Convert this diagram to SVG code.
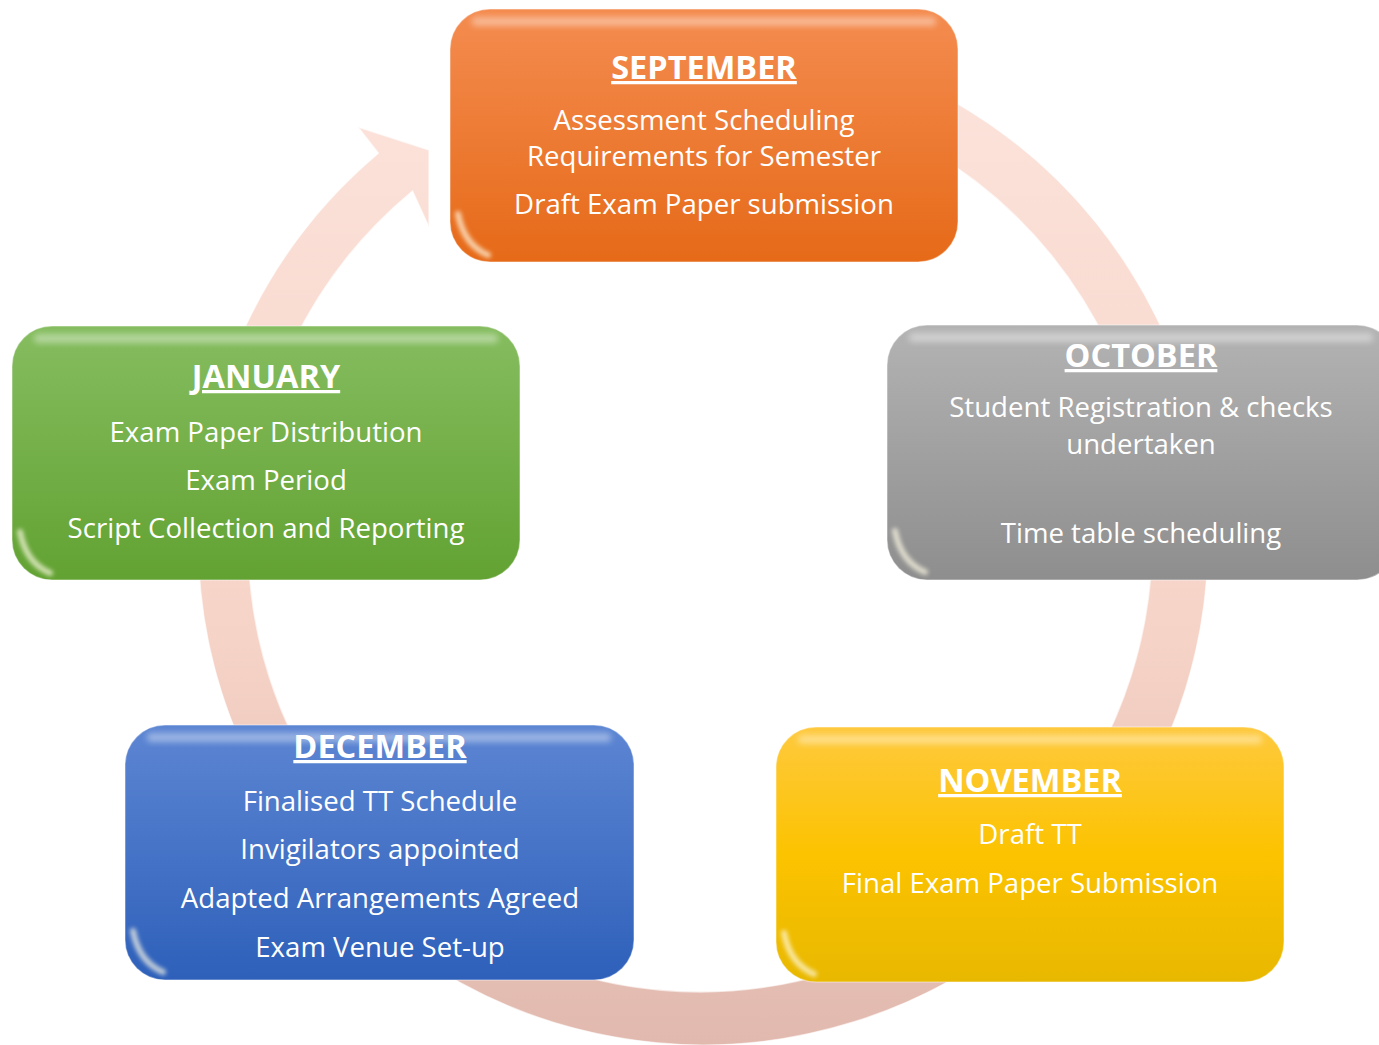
<svg xmlns="http://www.w3.org/2000/svg" width="1379" height="1045" viewBox="0 0 1379 1045">
<style>
.box{stroke:#ffffff;stroke-opacity:0.35;stroke-width:1.5}
.t{font-family:"Open Sans","Liberation Sans",sans-serif;fill:#ffffff;text-anchor:middle;font-size:27.6px}
.h{font-weight:bold;font-size:32.5px;text-decoration:underline}
.hl{fill:#ffffff;opacity:0.4}
.glow{fill:none;stroke:#fffbe6;stroke-width:6;stroke-linecap:round;opacity:0.7}
</style>
<defs>
<filter id="soft" x="-10%" y="-50%" width="120%" height="200%"><feGaussianBlur stdDeviation="3"/></filter>
<filter id="soft2" x="-50%" y="-50%" width="200%" height="200%"><feGaussianBlur stdDeviation="2"/></filter>
<linearGradient id="gRing" gradientUnits="userSpaceOnUse" x1="0" y1="35" x2="0" y2="1045">
<stop offset="0" stop-color="#fce4dc"/><stop offset="0.6" stop-color="#f6d3c7"/><stop offset="1" stop-color="#e1b9ae"/>
</linearGradient>
<linearGradient id="gOrange" x1="0" y1="0" x2="0" y2="1"><stop offset="0" stop-color="#f48c50"/><stop offset="1" stop-color="#e66a18"/></linearGradient>
<linearGradient id="gGray" x1="0" y1="0" x2="0" y2="1"><stop offset="0" stop-color="#b3b3b3"/><stop offset="1" stop-color="#8e8e8e"/></linearGradient>
<linearGradient id="gGreen" x1="0" y1="0" x2="0" y2="1"><stop offset="0" stop-color="#86bd60"/><stop offset="1" stop-color="#62a232"/></linearGradient>
<linearGradient id="gBlue" x1="0" y1="0" x2="0" y2="1"><stop offset="0" stop-color="#5d86d3"/><stop offset="1" stop-color="#2e60ba"/></linearGradient>
<linearGradient id="gYellow" x1="0" y1="0" x2="0" y2="1"><stop offset="0" stop-color="#fec93e"/><stop offset="0.5" stop-color="#fcc300"/><stop offset="1" stop-color="#e8b800"/></linearGradient>
</defs>

<g id="connectors">
<path d="M747,36.9 A505,505 0 1 1 378.4,153.2 L358,127 L429,150 L429,227 L412.5,191 A452,452 0 1 0 742.4,89.7 Z" fill="url(#gRing)" stroke="#ffffff" stroke-opacity="0.6" stroke-width="1.5"/>
</g>

<g id="september" transform="translate(450,9)">
<rect class="box" width="508" height="253" rx="40" fill="url(#gOrange)"/>
<rect class="hl" x="22" y="8" width="464" height="9" rx="4" filter="url(#soft)"/>
<path class="glow" d="M8,205 Q14,236 38,246" filter="url(#soft2)"/>
<text class="t h" x="254" y="70">SEPTEMBER</text>
<text class="t" x="254" y="121">Assessment Scheduling</text>
<text class="t" x="254" y="157">Requirements for Semester</text>
<text class="t" x="254" y="205">Draft Exam Paper submission</text>
</g>

<g id="october" transform="translate(887,325)">
<rect class="box" width="510" height="255" rx="40" fill="url(#gGray)"/>
<rect class="hl" x="22" y="8" width="464" height="9" rx="4" filter="url(#soft)"/>
<path class="glow" d="M8,206 Q14,237 38,247" filter="url(#soft2)"/>
<text class="t h" x="254" y="42">OCTOBER</text>
<text class="t" x="254" y="92">Student Registration &amp; checks</text>
<text class="t" x="254" y="129">undertaken</text>
<text class="t" x="254" y="218">Time table scheduling</text>
</g>

<g id="january" transform="translate(12,326)">
<rect class="box" width="508" height="254" rx="40" fill="url(#gGreen)"/>
<rect class="hl" x="22" y="8" width="464" height="9" rx="4" filter="url(#soft)"/>
<path class="glow" d="M8,206 Q14,237 38,247" filter="url(#soft2)"/>
<text class="t h" x="254" y="62">JANUARY</text>
<text class="t" x="254" y="116">Exam Paper Distribution</text>
<text class="t" x="254" y="164">Exam Period</text>
<text class="t" x="254" y="212">Script Collection and Reporting</text>
</g>

<g id="december" transform="translate(125,725)">
<rect class="box" width="509" height="255" rx="40" fill="url(#gBlue)"/>
<rect class="hl" x="22" y="8" width="464" height="9" rx="4" filter="url(#soft)"/>
<path class="glow" d="M8,206 Q14,237 38,247" filter="url(#soft2)"/>
<text class="t h" x="255" y="33">DECEMBER</text>
<text class="t" x="255" y="86">Finalised TT Schedule</text>
<text class="t" x="255" y="134">Invigilators appointed</text>
<text class="t" x="255" y="183">Adapted Arrangements Agreed</text>
<text class="t" x="255" y="232">Exam Venue Set-up</text>
</g>

<g id="november" transform="translate(776,727)">
<rect class="box" width="508" height="255" rx="40" fill="url(#gYellow)"/>
<rect class="hl" x="22" y="8" width="464" height="9" rx="4" filter="url(#soft)"/>
<path class="glow" d="M8,206 Q14,237 38,247" filter="url(#soft2)"/>
<text class="t h" x="254" y="65">NOVEMBER</text>
<text class="t" x="254" y="117">Draft TT</text>
<text class="t" x="254" y="166">Final Exam Paper Submission</text>
</g>
</svg>
